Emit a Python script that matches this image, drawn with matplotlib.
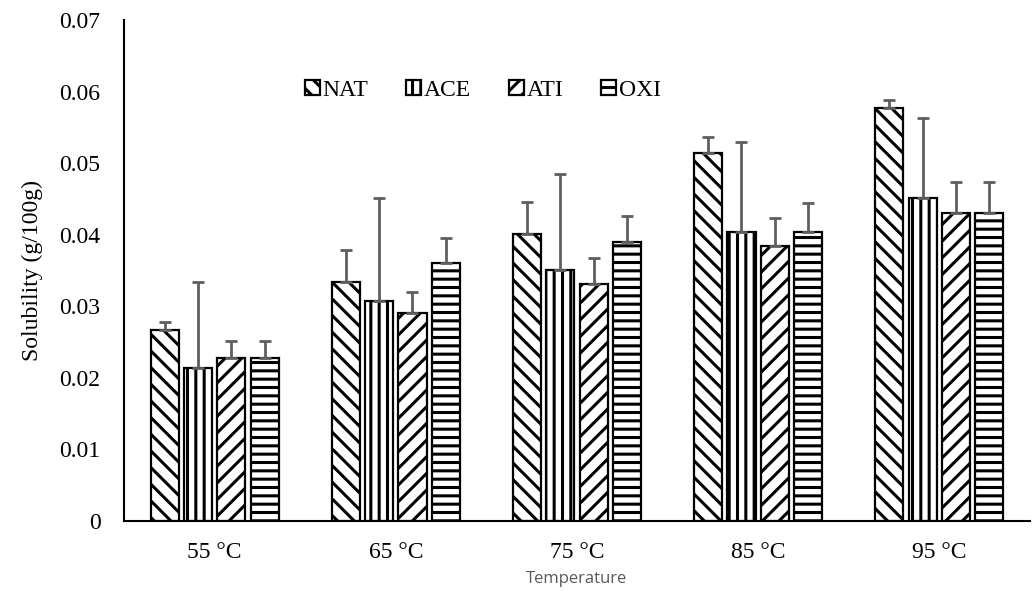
import numpy as np
import matplotlib
matplotlib.use('Agg')
import matplotlib.pyplot as plt

plt.rcParams['font.family'] = ['Liberation Serif', 'DejaVu Serif']
plt.rcParams['hatch.linewidth'] = 2.2

# data
temps = ['55 °C', '65 °C', '75 °C', '85 °C', '95 °C']
series = ['NAT', 'ACE', 'ATI', 'OXI']
nat = [0.0267, 0.0334, 0.0401, 0.0514, 0.0577]
ace = [0.0214, 0.0307, 0.0351, 0.0404, 0.0451]
ati = [0.0228, 0.0291, 0.0331, 0.0384, 0.0430]
oxi = [0.0228, 0.0360, 0.0390, 0.0404, 0.0430]
nat_err = [0.0011, 0.0045, 0.0045, 0.0023, 0.0011]
ace_err = [0.0120, 0.0144, 0.0134, 0.0126, 0.0112]
ati_err = [0.0024, 0.0029, 0.0036, 0.0039, 0.0044]
oxi_err = [0.0024, 0.0035, 0.0036, 0.0040, 0.0044]

values = [nat, ace, ati, oxi]
errors = [nat_err, ace_err, ati_err, oxi_err]
hatches = ['\\\\', '||', '//', '--']

fig = plt.figure(figsize=(10.34, 6.02), dpi=100)
ax = fig.add_axes([0.12, 0.1346, 0.876, 0.832])

x = np.arange(len(temps))
step = 0.184
width = 0.155
for i in range(len(series)):
    pos = x + (i - 1.5) * step
    ax.bar(pos, values[i], width, color='white', edgecolor='black',
           linewidth=1.6, hatch=hatches[i], label=series[i], zorder=2)
    ax.errorbar(pos, values[i], yerr=[np.zeros(len(temps)), errors[i]],
                fmt='none', ecolor='#5f5f5f', elinewidth=2, capsize=4.5,
                capthick=2, zorder=3)

ax.set_xlim(-0.5, 4.5)
ax.set_ylim(0, 0.07)
ax.set_yticks(np.arange(0, 0.071, 0.01))
ax.set_yticklabels(['0', '0.01', '0.02', '0.03', '0.04', '0.05', '0.06', '0.07'])
ax.set_xticks(x)
ax.set_xticklabels(temps)
ax.tick_params(length=0, labelsize=17)
ax.tick_params(axis='y', pad=17)
ax.tick_params(axis='x', pad=15)
ax.spines['top'].set_visible(False)
ax.spines['right'].set_visible(False)
ax.spines['left'].set_linewidth(1.5)
ax.spines['bottom'].set_linewidth(1.5)

ax.set_ylabel('Solubility (g/100g)', fontsize=17, labelpad=12)
ax.set_xlabel('Temperature', fontsize=12, color='#595959',
              family=['Open Sans', 'DejaVu Sans'], labelpad=6)

ax.legend(loc='center', bbox_to_anchor=(0.396, 0.86), ncol=4,
          frameon=False, fontsize=17, handlelength=0.65, handleheight=0.65,
          handletextpad=0.1, columnspacing=1.6)

fig.savefig('out.png', dpi=100)
